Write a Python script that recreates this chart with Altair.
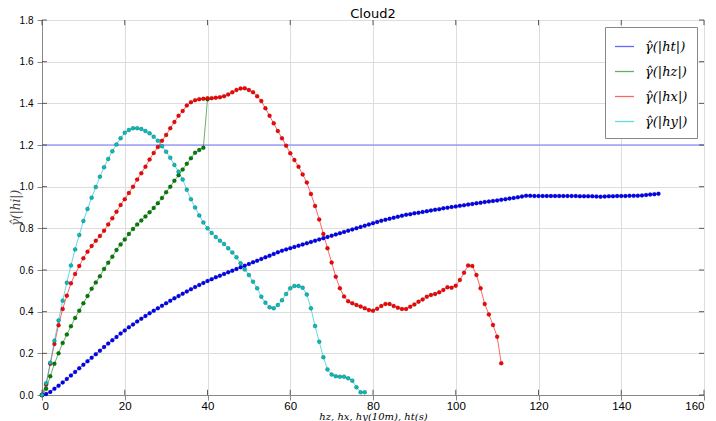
import altair as alt
import pandas as pd

# ---- data ----
gamma_t = [0.0, 0.005, 0.015, 0.03, 0.045, 0.06, 0.077, 0.094, 0.111, 0.128,
           0.145, 0.162, 0.179, 0.196, 0.213, 0.23, 0.247, 0.263, 0.279, 0.295,
           0.31, 0.325, 0.339, 0.353, 0.366, 0.379, 0.392, 0.404, 0.416, 0.428,
           0.44, 0.452, 0.464, 0.475, 0.486, 0.497, 0.508, 0.518, 0.528, 0.538,
           0.547, 0.556, 0.565, 0.573, 0.581, 0.589, 0.597, 0.605, 0.613, 0.621,
           0.629, 0.637, 0.645, 0.653, 0.661, 0.669, 0.677, 0.685, 0.693, 0.699,
           0.705, 0.711, 0.717, 0.723, 0.729, 0.735, 0.741, 0.747, 0.753, 0.759,
           0.765, 0.771, 0.777, 0.783, 0.789, 0.795, 0.801, 0.807, 0.813, 0.819,
           0.825, 0.831, 0.836, 0.841, 0.846, 0.851, 0.856, 0.861, 0.865, 0.868,
           0.872, 0.875, 0.879, 0.882, 0.886, 0.889, 0.892, 0.896, 0.899, 0.902,
           0.905, 0.908, 0.911, 0.914, 0.917, 0.92, 0.923, 0.926, 0.929, 0.931,
           0.934, 0.937, 0.940, 0.943, 0.946, 0.949, 0.953, 0.957, 0.956, 0.955,
           0.955, 0.955, 0.955, 0.955, 0.955, 0.955, 0.955, 0.955, 0.955, 0.955,
           0.954, 0.954, 0.954, 0.954, 0.953, 0.952, 0.953, 0.954, 0.954, 0.955,
           0.955, 0.955, 0.956, 0.956, 0.957, 0.958, 0.960, 0.962, 0.964, 0.966]

gamma_z = [0.0, 0.03, 0.09, 0.15, 0.2, 0.25, 0.29, 0.33, 0.37, 0.405,
           0.44, 0.475, 0.51, 0.54, 0.57, 0.605, 0.635, 0.664, 0.696, 0.723,
           0.747, 0.773, 0.797, 0.818, 0.838, 0.857, 0.877, 0.898, 0.921, 0.946,
           0.973, 1.0, 1.028, 1.055, 1.082, 1.11, 1.137, 1.163, 1.176, 1.187,
           1.42]

gamma_x = [0.0, 0.05, 0.15, 0.245, 0.335, 0.413, 0.477, 0.536, 0.581, 0.619,
           0.656, 0.688, 0.715, 0.741, 0.763, 0.789, 0.819, 0.848, 0.88, 0.912,
           0.94, 0.97, 1.0, 1.034, 1.065, 1.096, 1.13, 1.162, 1.19, 1.22,
           1.248, 1.28, 1.31, 1.34, 1.363, 1.39, 1.405, 1.415, 1.42, 1.422,
           1.424, 1.425, 1.427, 1.429, 1.434, 1.443, 1.453, 1.464, 1.471, 1.472,
           1.464, 1.453, 1.434, 1.411, 1.376, 1.34, 1.304, 1.267, 1.232, 1.197,
           1.16, 1.128, 1.096, 1.059, 1.02, 0.965, 0.907, 0.843, 0.773, 0.704,
           0.636, 0.568, 0.512, 0.473, 0.45, 0.44, 0.432, 0.425, 0.417, 0.408,
           0.405, 0.414, 0.427, 0.437, 0.437, 0.427, 0.419, 0.413, 0.413, 0.424,
           0.435, 0.448, 0.459, 0.472, 0.48, 0.485, 0.493, 0.504, 0.517, 0.515,
           0.525, 0.552, 0.587, 0.622, 0.619, 0.576, 0.512, 0.437, 0.387, 0.336,
           0.28, 0.152]

gamma_y = [0.0, 0.056, 0.155, 0.26, 0.358, 0.453, 0.539, 0.622, 0.699, 0.768,
           0.835, 0.893, 0.947, 0.998, 1.048, 1.093, 1.133, 1.170, 1.203, 1.233,
           1.259, 1.272, 1.280, 1.281, 1.277, 1.267, 1.256, 1.240, 1.221, 1.194,
           1.168, 1.139, 1.104, 1.072, 1.035, 0.985, 0.94, 0.9, 0.862, 0.828,
           0.800, 0.778, 0.758, 0.741, 0.725, 0.704, 0.684, 0.661, 0.632, 0.603,
           0.576, 0.544, 0.512, 0.472, 0.443, 0.421, 0.416, 0.432, 0.455, 0.485,
           0.512, 0.523, 0.523, 0.515, 0.482, 0.416, 0.331, 0.256, 0.181, 0.123,
           0.098, 0.09, 0.088, 0.088, 0.080, 0.069, 0.037, 0.013, 0.013]

series_names = ["\u03b3\u0302(|ht|)", "\u03b3\u0302(|hz|)", "\u03b3\u0302(|hx|)", "\u03b3\u0302(|hy|)"]
series_colors = ["#0000ff", "#008000", "#ff0000", "#00bfbf"]
x_ticks = [0, 20, 40, 60, 80, 100, 120, 140, 160]
y_ticks = [0.0, 0.2, 0.4, 0.6, 0.8, 1.0, 1.2, 1.4, 1.6, 1.8]
sill = [1.2]

rows = []
for name, vals in zip(series_names, [gamma_t, gamma_z, gamma_x, gamma_y]):
    for i, v in enumerate(vals):
        rows.append({"lag": i, "gamma": v, "series": name})
df = pd.DataFrame(rows)

xscale = alt.Scale(domain=[0, 160], nice=False, zero=False)
yscale = alt.Scale(domain=[0, 1.8], nice=False)
cscale = alt.Scale(domain=series_names, range=series_colors)

xenc = alt.X("lag:Q", scale=xscale,
             axis=alt.Axis(values=x_ticks, format="d", title="hz, hx, hy(10m), ht(s)",
                           titleFont="DejaVu Serif", titleFontStyle="italic",
                           titleFontWeight="normal", titleFontSize=10,
                           titleY=16, titleBaseline="top", labelPadding=0,
                           labelFontSize=11.5))
yenc = alt.Y("gamma:Q", scale=yscale,
             axis=alt.Axis(values=y_ticks, format=".1f", title="\u03b3\u0302(|hi|)",
                           titleFont="DejaVu Serif", titleFontStyle="italic",
                           titleFontWeight="normal", titleFontSize=12, titleColor="#444",
                           titleX=-20, labelPadding=4))

base = alt.Chart(df)

lines = base.mark_line(strokeWidth=1, opacity=0.6).encode(
    x=xenc, y=yenc,
    color=alt.Color("series:N", scale=cscale,
                    legend=alt.Legend(title=None, orient="top-right", offset=7,
                                      padding=9, strokeColor="#888", fillColor="white",
                                      symbolType="stroke", symbolSize=361,
                                      symbolStrokeWidth=1.3, labelFont="DejaVu Serif",
                                      labelFontStyle="italic", labelFontSize=13,
                                      rowPadding=7, labelOffset=10)),
    detail="series:N",
)

points = base.mark_point(filled=True, size=16, opacity=1, stroke="#000",
                         strokeWidth=0.4, strokeOpacity=0.5).encode(
    x="lag:Q", y="gamma:Q",
    fill=alt.Fill("series:N", scale=cscale, legend=None),
)

rule = alt.Chart(pd.DataFrame({"v": sill})).mark_rule(
    color="#8888ff", strokeWidth=2, opacity=0.6).encode(y="v:Q")

xt = pd.DataFrame({"v": x_ticks})
yt = pd.DataFrame({"v": y_ticks})
tick_style = dict(color="#333", strokeWidth=0.8)
ticks_bottom = alt.Chart(xt).mark_rule(**tick_style).encode(
    x="v:Q", y=alt.datum(0), y2=alt.datum(0.025))
ticks_top = alt.Chart(xt).mark_rule(**tick_style).encode(
    x="v:Q", y=alt.datum(1.8), y2=alt.datum(1.775))
ticks_left = alt.Chart(yt).mark_rule(**tick_style).encode(
    y="v:Q", x=alt.datum(0), x2=alt.datum(1.2))
ticks_right = alt.Chart(yt).mark_rule(**tick_style).encode(
    y="v:Q", x=alt.datum(160), x2=alt.datum(158.8))

chart = alt.layer(
    rule, ticks_bottom, ticks_top, ticks_left, ticks_right, lines, points
).properties(
    width=662, height=375,
    title=alt.TitleParams("Cloud2", font="DejaVu Sans", fontSize=13,
                          fontWeight="normal", offset=3, frame="group", dy=9),
    padding={"left": 42, "top": 20, "right": 12, "bottom": 26},
    autosize=alt.AutoSizeParams(type="none"),
).configure_view(
    stroke="#666", strokeWidth=1
).configure_axis(
    domain=False, ticks=False, grid=False,
    labelFont="DejaVu Sans", labelFontSize=13, labelColor="#000",
).configure(background="white")

chart.save("out.html", embed_options={"renderer": "svg", "actions": False})
